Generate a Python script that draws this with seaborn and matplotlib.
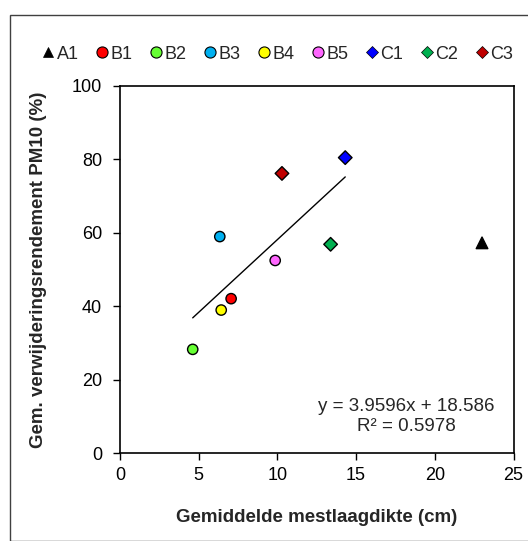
import matplotlib
matplotlib.use("Agg")
import matplotlib.pyplot as plt
import seaborn as sns
import pandas as pd
import numpy as np
from matplotlib.patches import Rectangle

sns.set_theme(style="white")
plt.rcParams["font.family"] = ["Liberation Sans", "DejaVu Sans"]

# Measurement locations
labels = ["A1", "B1", "B2", "B3", "B4", "B5", "C1", "C2", "C3"]
thickness = [23.0, 7.06, 4.62, 6.34, 6.43, 9.86, 14.31, 13.38, 10.29]
removal = [57.3, 42.1, 28.3, 59.0, 39.0, 52.5, 80.5, 56.9, 76.2]
colors = ["#000000", "#FF0000", "#66FF33", "#00B0F0", "#FFFF00",
          "#FF66FF", "#0000FF", "#00B050", "#C00000"]
markers = ["^", "o", "o", "o", "o", "o", "D", "D", "D"]

# Linear trend over the B and C locations
slope = 3.9596
intercept = 18.586
r_squared = 0.5978
trend_x = [min(thickness[1:]), max(thickness[1:])]

df = pd.DataFrame({"locatie": labels, "dikte": thickness, "rendement": removal})

fig = plt.figure(figsize=(5.28, 5.41), dpi=100)
ax = fig.add_axes([120 / 528, 1 - 453.3 / 541, 393.5 / 528, 367.3 / 541])

# outer chart border
fig.patches.append(Rectangle((9.5 / 528, 0), 1.0, 1 - 14.5 / 541,
                             transform=fig.transFigure, fill=False,
                             edgecolor="#404040", linewidth=1.0, zorder=0))

trend_df = pd.DataFrame({"x": trend_x,
                         "y": [slope * x + intercept for x in trend_x]})
sns.lineplot(data=trend_df, x="x", y="y", ax=ax, color="black",
             linewidth=1.0, legend=False, zorder=2)

sizes = {lab: (55 if m == "o" else 48 if m == "D" else 70)
         for lab, m in zip(labels, markers)}
sns.scatterplot(data=df, x="dikte", y="rendement", hue="locatie",
                style="locatie", palette=dict(zip(labels, colors)),
                markers=dict(zip(labels, markers)), size="locatie",
                sizes=sizes, edgecolor="black", linewidth=1.0, ax=ax,
                zorder=3)

# legend row above the plot
handles = []
for lab, col, m in zip(labels, colors, markers):
    ms = 8 if m == "o" else 6.5 if m == "D" else 7.5
    h = plt.Line2D([], [], linestyle="none", marker=m, markersize=ms,
                   markerfacecolor=col, markeredgecolor="black",
                   markeredgewidth=0.8 if m == "o" else 0.5)
    handles.append(h)
ax.legend(handles, labels, loc="center", bbox_to_anchor=(0.4, 1.087),
          ncol=9, frameon=False, fontsize=13, handlelength=0.7,
          handletextpad=0.1, columnspacing=0.97, borderaxespad=0)

ax.set_xlim(0, 25)
ax.set_ylim(0, 100)
ax.set_xticks(np.arange(0, 26, 5))
ax.set_yticks(np.arange(0, 101, 20))
for s in ax.spines.values():
    s.set_color("black")
    s.set_linewidth(1.2)
ax.tick_params(axis="both", direction="out", length=5, width=1.0,
               colors="black", labelsize=13, bottom=True, left=True)
ax.tick_params(axis="y", pad=8)
ax.tick_params(axis="x", pad=5)

ax.set_xlabel("Gemiddelde mestlaagdikte (cm)", fontsize=13.5,
              fontweight="bold", labelpad=18)
ax.set_ylabel("Gem. verwijderingsrendement PM10 (%)", fontsize=13.5,
              fontweight="bold", labelpad=18)

ax.text(18.2, 10.0, f"y = {slope}x + {intercept}\nR\u00b2 = {r_squared}",
        ha="center", va="center", fontsize=13.5, linespacing=1.2)

fig.savefig("out.png", dpi=100)
